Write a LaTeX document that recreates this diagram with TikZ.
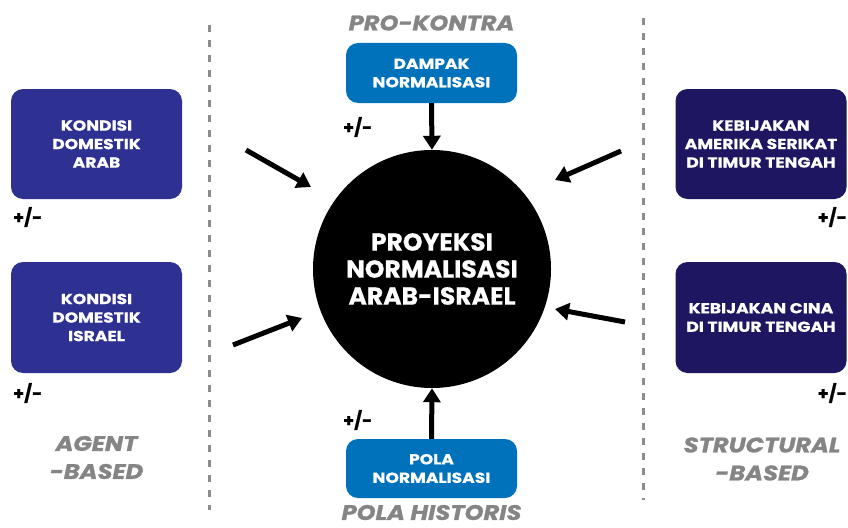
\documentclass[tikz,border=0pt]{standalone}
\usepackage{fontspec}
\setmainfont{Poppins}
\usetikzlibrary{arrows.meta}
\definecolor{boxL}{HTML}{2E3192}
\definecolor{boxR}{HTML}{1E1660}
\definecolor{boxB}{HTML}{0072BC}
\definecolor{lab}{HTML}{858585}
\definecolor{sepgray}{HTML}{8C8C8C}
\tikzset{
  box/.style={rounded corners=12pt, minimum width=171pt, inner sep=0pt, text=white, font=\bfseries\addfontfeatures{FakeStretch=1.18,FakeBold=0.6}\fontsize{14.5}{18.5}\selectfont, align=center},
  pm/.style={font=\bfseries\addfontfeatures{FakeBold=1}\fontsize{17.5}{20}\selectfont, inner sep=0pt},
  glab/.style={text=lab, font=\bfseries\itshape\addfontfeatures{FakeStretch=1.15,FakeBold=1.2}\fontsize{21}{28}\selectfont, align=center, inner sep=0pt},
  sep/.style={draw=sepgray, line width=3pt, dash pattern=on 7pt off 8pt},
  arr/.style={line width=5pt, -{Triangle[width=17pt,length=14pt]}},
}
\begin{document}
\begin{tikzpicture}[x=1pt,y=-1pt]
\useasboundingbox (0,0) rectangle (848,527);
% separators
\draw[sep] (209,25) -- (209,510);
\draw[sep] (643,18) -- (643,500);
% left boxes
\node[box, fill=boxL, minimum height=110pt] (ka) at (96.5,144) {KONDISI\\DOMESTIK\\ARAB};
\node[box, fill=boxL, minimum height=111pt] (ki) at (96.5,317.5) {KONDISI\\DOMESTIK\\ISRAEL};
% right boxes
\node[box, fill=boxR, minimum height=110pt] (as) at (761,144) {KEBIJAKAN\\AMERIKA SERIKAT\\DI TIMUR TENGAH};
\node[box, fill=boxR, minimum height=111pt] (cn) at (761,317.5) {KEBIJAKAN CINA\\DI TIMUR TENGAH};
% top / bottom boxes
\node[box, fill=boxB, minimum height=60pt] (dn) at (431.5,73) {DAMPAK\\NORMALISASI};
\node[box, fill=boxB, minimum height=59pt] (pn) at (431.5,468.5) {POLA\\NORMALISASI};
% circle
\node[circle, fill=black, minimum size=238pt, inner sep=0pt, text=white, align=center,
      font=\bfseries\addfontfeatures{FakeStretch=1.02,FakeBold=0.6}\fontsize{24.5}{27}\selectfont] (c) at (432,269) {PROYEKSI\\NORMALISASI\\ARAB-ISRAEL};
% +/- labels
\node[pm, anchor=west] (p1) at (13,217) {+/-};
\node[pm, anchor=west] (p2) at (13,393) {+/-};
\node[pm, anchor=east] (p3) at (847,217) {+/-};
\node[pm, anchor=east] (p4) at (847,393) {+/-};
\node[pm, anchor=west] (p5) at (343,127) {+/-};
\node[pm, anchor=west] (p6) at (343,420) {+/-};
% gray labels
\node[glab] (t1) at (431.5,23) {PRO-KONTRA};
\node[glab] (t2) at (431.5,512.5) {POLA HISTORIS};
\node[glab] (t3) at (96.5,457.5) {AGENT\\-BASED};
\node[glab] (t4) at (762,459) {STRUCTURAL\\-BASED};
% arrows
\draw[arr] (dn.south) -- (c.north);
\draw[arr] (pn.north) -- (c.south);
\coordinate (a1) at (246,150);
\coordinate (a1t) at (311,187);
\coordinate (a2) at (233,345);
\coordinate (a2t) at (302,318);
\coordinate (a3) at (621,151);
\coordinate (a3t) at (555,180);
\coordinate (a4) at (625,322);
\coordinate (a4t) at (555,309);
\draw[arr] (a1) -- (a1t);
\draw[arr] (a2) -- (a2t);
\draw[arr] (a3) -- (a3t);
\draw[arr] (a4) -- (a4t);
\end{tikzpicture}
\end{document}
